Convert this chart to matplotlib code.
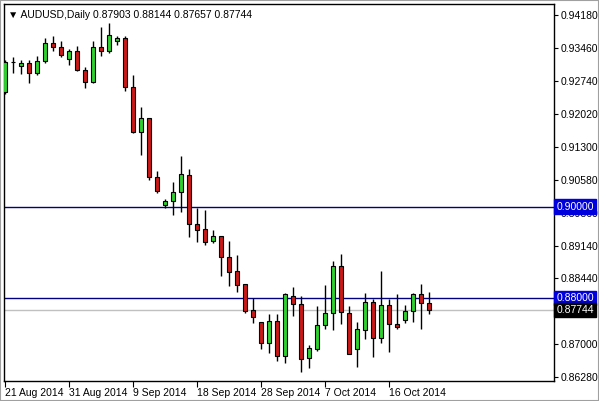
import numpy as np
import matplotlib
matplotlib.use('Agg')
import matplotlib.pyplot as plt
from matplotlib.patches import Rectangle

plt.rcParams['font.family'] = ['Liberation Sans', 'DejaVu Sans']

# ── data: AUDUSD daily OHLC ──────────────────────────────────────────────
opens  = [0.92499, 0.93150, 0.93067, 0.93132, 0.92914, 0.93176, 0.93569, 0.93482, 0.93220,
          0.93394, 0.92980, 0.92718, 0.93482, 0.93394, 0.93613, 0.93678, 0.92609, 0.91626,
          0.91932, 0.90644, 0.90033, 0.90121, 0.90317, 0.90688, 0.89619, 0.89510, 0.89247,
          0.89357, 0.88898, 0.88593, 0.88309, 0.87742, 0.87480, 0.87021, 0.87502, 0.86738,
          0.88047, 0.87872, 0.86694, 0.86891, 0.87414, 0.87676, 0.88702, 0.87676, 0.86891,
          0.87305, 0.87916, 0.87130, 0.87851, 0.87436, 0.87523, 0.87720, 0.88091, 0.87903]
highs  = [0.93198, 0.93263, 0.93198, 0.93198, 0.93285, 0.93678, 0.93722, 0.93613, 0.93438,
          0.93503, 0.93045, 0.93613, 0.93918, 0.94005, 0.93722, 0.93722, 0.92871, 0.92172,
          0.91932, 0.90775, 0.90164, 0.90535, 0.91103, 0.90819, 0.89968, 0.89924, 0.89488,
          0.89357, 0.89247, 0.88942, 0.88309, 0.88004, 0.87480, 0.87654, 0.87654, 0.88113,
          0.88244, 0.88047, 0.86978, 0.87829, 0.88287, 0.88811, 0.88964, 0.87829, 0.87480,
          0.88113, 0.87982, 0.88593, 0.87982, 0.88091, 0.87851, 0.88113, 0.88309, 0.88144]
lows   = [0.92456, 0.92914, 0.92892, 0.92696, 0.92871, 0.93132, 0.93394, 0.93263, 0.93089,
          0.92958, 0.92587, 0.92696, 0.93285, 0.93351, 0.93525, 0.92521, 0.91605, 0.91124,
          0.90579, 0.90295, 0.89968, 0.89815, 0.89880, 0.89335, 0.89225, 0.89160, 0.89204,
          0.88484, 0.88265, 0.88134, 0.87676, 0.87458, 0.86891, 0.86804, 0.86629, 0.86585,
          0.87611, 0.86389, 0.86476, 0.86847, 0.87327, 0.87305, 0.87436, 0.86782, 0.86498,
          0.87109, 0.86716, 0.87021, 0.86825, 0.87327, 0.87458, 0.87480, 0.87327, 0.87657]
closes = [0.93154, 0.93150, 0.93132, 0.92914, 0.93176, 0.93569, 0.93482, 0.93307, 0.93394,
          0.92980, 0.92718, 0.93482, 0.93394, 0.93744, 0.93678, 0.92609, 0.91626, 0.91932,
          0.90644, 0.90339, 0.90121, 0.90317, 0.90710, 0.89619, 0.89488, 0.89225, 0.89357,
          0.88898, 0.88571, 0.88287, 0.87720, 0.87589, 0.87021, 0.87502, 0.86738, 0.88091,
          0.87872, 0.86673, 0.86912, 0.87414, 0.87676, 0.88702, 0.87698, 0.86782, 0.87327,
          0.87916, 0.87130, 0.87851, 0.87436, 0.87371, 0.87720, 0.88091, 0.87894, 0.87744]

date_labels = ['21 Aug 2014', '31 Aug 2014', '9 Sep 2014', '18 Sep 2014',
               '28 Sep 2014', '7 Oct 2014', '16 Oct 2014']
date_idx    = [0, 8, 16, 24, 32, 40, 48]

price_ticks = [0.94180, 0.93460, 0.92740, 0.92020, 0.91300, 0.90580, 0.89860,
               0.89140, 0.88440, 0.87000, 0.86280]

hlines = [0.90000, 0.88000]
last_price = 0.87744

BULL = '#2fd22f'
BEAR = '#cc1818'

# ── plot ──────────────────────────────────────────────────────────────────
W, H = 599, 401
fig = plt.figure(figsize=(W / 100, H / 100), dpi=100)
ax = fig.add_axes([4 / W, (H - 381) / H, (554 - 4) / W, (381 - 4) / H])

x = np.arange(len(opens))
o = np.array(opens); c = np.array(closes)
hi = np.array(highs); lo = np.array(lows)

# horizontal lines behind candles
for lv in hlines:
    ax.axhline(lv, color='#000080', lw=1, zorder=1)
ax.axhline(last_price, color='#c0c0c0', lw=1, zorder=1)

ax.vlines(x, lo, hi, color='black', lw=1, zorder=2)
colors = [BULL if cc > oo else (BEAR if cc < oo else 'black') for oo, cc in zip(o, c)]
ax.bar(x, np.abs(c - o), bottom=np.minimum(o, c), width=0.6,
       color=colors, edgecolor='black', linewidth=0.8, zorder=3)

ax.set_xlim(-0.125, 68.625)
ax.set_ylim(0.86192, 0.94420)

for s in ax.spines.values():
    s.set_color('black')
    s.set_linewidth(1)

ax.yaxis.tick_right()
ax.set_yticks(price_ticks)
ax.set_yticklabels([f'{v:.5f}' for v in price_ticks])
ax.tick_params(axis='y', length=3, width=0.8, pad=2, labelsize=7.5, colors='black')

ax.set_xticks(date_idx)
ax.set_xticklabels(date_labels, ha='left')
ax.tick_params(axis='x', length=4, width=0.8, pad=1, labelsize=7.5)

# price labels on the right scale
ytr = ax.get_yaxis_transform()
for lv in hlines:
    ax.text(1.004, lv, f'{lv:.5f}', transform=ytr, va='center', ha='left',
            fontsize=7.5, color='white', zorder=5, clip_on=False,
            bbox=dict(boxstyle='square,pad=0.2', fc='#0000dd', ec='#0000dd'))
ax.text(1.004, last_price, f'{last_price:.5f}', transform=ytr, va='center', ha='left',
        fontsize=7.5, color='white', zorder=5, clip_on=False,
        bbox=dict(boxstyle='square,pad=0.2', fc='black', ec='black'))

# header
hdr = f'\u25bc AUDUSD,Daily {opens[-1]:.5f} {highs[-1]:.5f} {lows[-1]:.5f} {closes[-1]:.5f}'
ax.text(0.008, 0.972, hdr, transform=ax.transAxes, fontsize=7.5, va='center', ha='left')

# window border
fig.patches.append(Rectangle((0, 0), 1, 1, transform=fig.transFigure,
                             fill=False, ec='#a0a0a0', lw=1.5))

fig.savefig('out.png', dpi=100)
plt.close()
